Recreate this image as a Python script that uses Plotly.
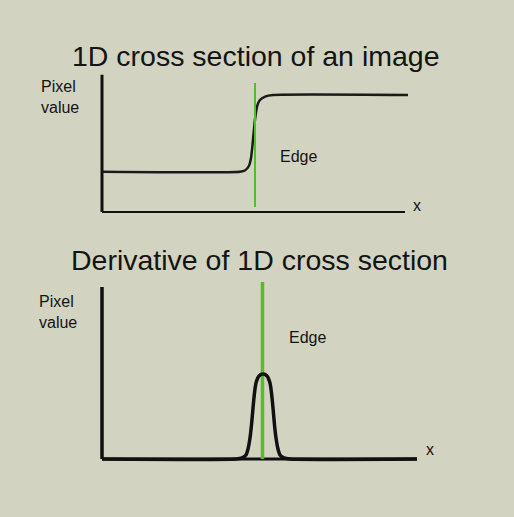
import plotly.graph_objects as go

W, H = 514, 517
BG = "rgb(210,211,193)"
FONT = "Liberation Sans, Arial, sans-serif"
GREEN = "rgb(92,184,44)"

# ---------------- data ----------------
# top panel: 1D cross section (step edge)
top_x = [0, 4.51, 4.67, 4.80, 4.87, 4.93, 5.0, 5.07, 5.16, 5.33, 5.59, 10]
top_y = [0.296, 0.296, 0.305, 0.338, 0.397, 0.52, 0.68, 0.779, 0.824, 0.849, 0.86, 0.86]
top_edge_x = 5.0
top_edge_y = [0.037, 0.949]
top_axis_x = [0, 9.9]
top_axis_y = [0, 1.01]

# bottom panel: derivative (peak)
bot_x = [0, 4.254, 4.444, 4.571, 4.635, 4.698, 4.746, 4.794, 4.841, 4.889, 4.984,
         5.111, 5.238, 5.333, 5.381, 5.429, 5.476, 5.524, 5.587, 5.651, 5.778, 5.968, 10]
bot_y = [0, 0, 0.006, 0.023, 0.058, 0.122, 0.198, 0.297, 0.384, 0.442, 0.483,
         0.494, 0.483, 0.442, 0.384, 0.297, 0.198, 0.122, 0.058, 0.023, 0.006, 0, 0]
bot_edge_x = 5.095
bot_edge_y = [0, 1.029]
bot_axis_x = [0, 10]
bot_axis_y = [0, 1]

titles = ["1D cross section of an image", "Derivative of 1D cross section"]
ylabel = "Pixel<br>value"
xlabel = "x"
edge_label = "Edge"


# ---------------- layout helpers ----------------
def dom_x(r, p0, p1, v0, v1):
    s = (p1 - p0) / (v1 - v0)
    a = p0 + (r[0] - v0) * s
    b = p0 + (r[1] - v0) * s
    return [a / W, b / W]


def dom_y(r, p0, p1, v0, v1):
    s = (p1 - p0) / (v1 - v0)
    a = p0 + (r[0] - v0) * s
    b = p0 + (r[1] - v0) * s
    return [1 - a / H, 1 - b / H]


fig = go.Figure()

tx_r = [-0.6, 11.0]
ty_r = [-0.12, 1.12]
bx_r = [-0.6, 11.0]
by_r = [-0.12, 1.15]

# top traces
fig.add_trace(go.Scatter(x=[top_axis_x[0], top_axis_x[0]], y=top_axis_y, mode="lines",
                         line=dict(color="#111", width=3), xaxis="x", yaxis="y", hoverinfo="skip"))
fig.add_trace(go.Scatter(x=top_axis_x, y=[0, 0], mode="lines",
                         line=dict(color="#111", width=2), xaxis="x", yaxis="y", hoverinfo="skip"))
fig.add_trace(go.Scatter(x=top_x, y=top_y, mode="lines", line_shape="spline",
                         line=dict(color="#1a1a1a", width=2.5, smoothing=0.6), xaxis="x", yaxis="y"))
fig.add_trace(go.Scatter(x=[top_edge_x, top_edge_x], y=top_edge_y, mode="lines",
                         line=dict(color=GREEN, width=2), xaxis="x", yaxis="y"))

# bottom traces
fig.add_trace(go.Scatter(x=[bot_axis_x[0], bot_axis_x[0]], y=bot_axis_y, mode="lines",
                         line=dict(color="#111", width=3.5), xaxis="x2", yaxis="y2", hoverinfo="skip"))
fig.add_trace(go.Scatter(x=bot_axis_x, y=[0, 0], mode="lines",
                         line=dict(color="#111", width=3), xaxis="x2", yaxis="y2", hoverinfo="skip"))
fig.add_trace(go.Scatter(x=[bot_edge_x, bot_edge_x], y=bot_edge_y, mode="lines",
                         line=dict(color=GREEN, width=3.5), xaxis="x2", yaxis="y2"))
fig.add_trace(go.Scatter(x=bot_x, y=bot_y, mode="lines", line_shape="spline",
                         line=dict(color="#111", width=3.5, smoothing=0.6), xaxis="x2", yaxis="y2"))

ax = dict(visible=False, fixedrange=True)
fig.update_layout(
    width=W, height=H, margin=dict(l=0, r=0, t=0, b=0),
    paper_bgcolor=BG, plot_bgcolor=BG, showlegend=False,
    xaxis=dict(ax, range=tx_r, domain=dom_x(tx_r, 102, 408, 0, 10)),
    yaxis=dict(ax, range=ty_r, domain=dom_y(ty_r, 212, 76, 0, 1)),
    xaxis2=dict(ax, range=bx_r, domain=dom_x(bx_r, 102, 417, 0, 10)),
    yaxis2=dict(ax, range=by_r, domain=dom_y(by_r, 459, 287, 0, 1)),
)


def ann(text, px, py, size, xanchor="center", align="center"):
    fig.add_annotation(text=text, x=px / W, y=1 - py / H, xref="paper", yref="paper",
                       showarrow=False, xanchor=xanchor, yanchor="middle", align=align,
                       font=dict(family=FONT, size=size, color="#141414"))


ann(titles[0], 255.5, 56, 28.5)
ann(titles[1], 259.5, 260, 28.5)
ann(ylabel, 39, 97, 16, xanchor="left", align="left")
ann(ylabel, 37, 312, 16, xanchor="left", align="left")
ann(edge_label, 278, 156, 16, xanchor="left")
ann(edge_label, 287, 337, 16, xanchor="left")
ann(xlabel, 416.5, 205, 16)
ann(xlabel, 430, 449, 16)

fig.write_html(
    "out.html",
    config={"displayModeBar": False},
    post_script="document.body.style.margin='0';document.body.style.background='" + BG + "';",
)
